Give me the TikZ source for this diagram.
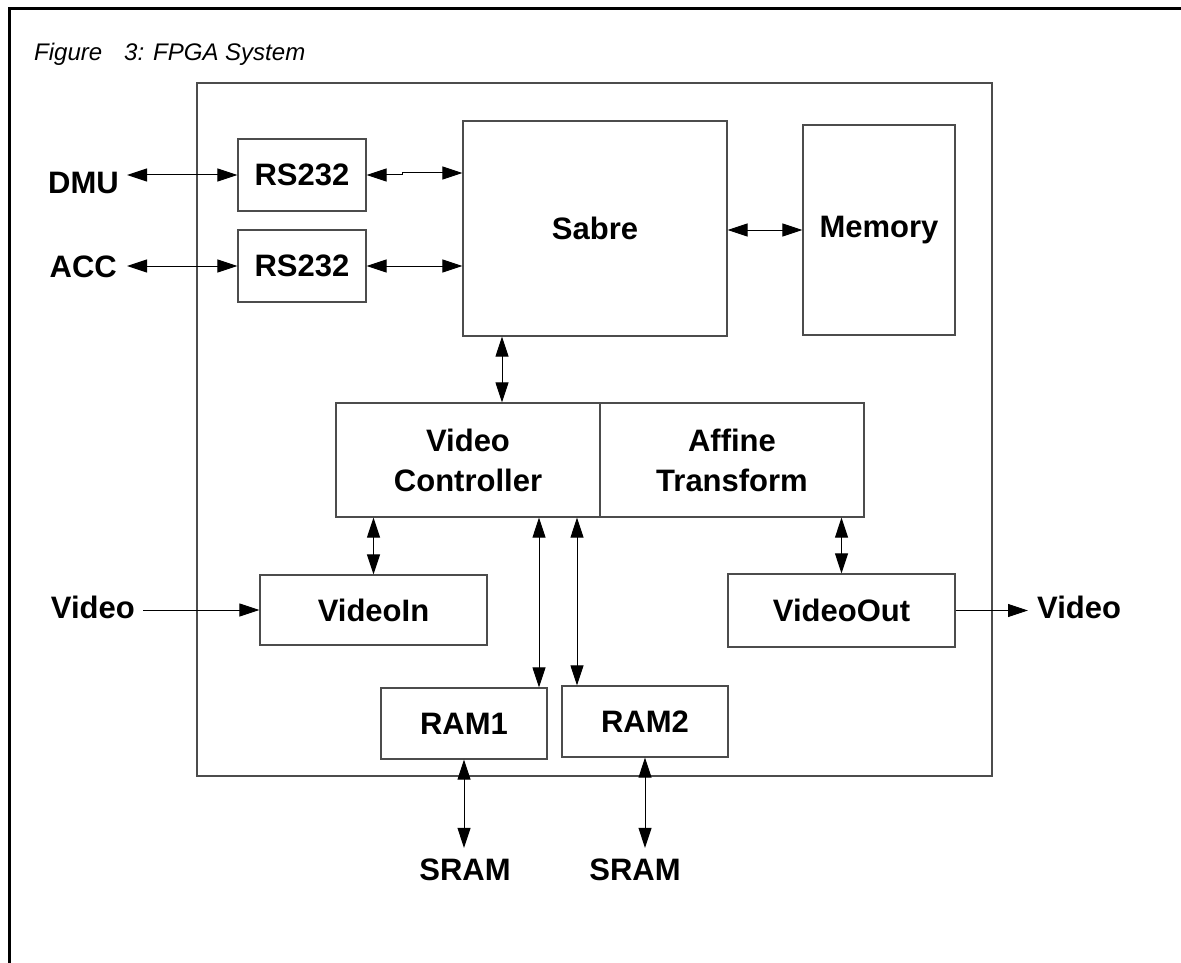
\documentclass[tikz,border=0pt]{standalone}
\usepackage{fontspec}
\setmainfont{Liberation Sans}
\usetikzlibrary{arrows.meta}
\begin{document}
\begin{tikzpicture}[x=1pt,y=-1pt,
  blk/.style={draw=black!70, line width=1.3pt, inner sep=0pt, font=\fontsize{31}{40}\selectfont\bfseries, align=center},
  lbl/.style={inner sep=0pt, font=\fontsize{31}{37}\selectfont\bfseries},
  conn/.style={draw=black, line width=1pt},
  dbl/.style={conn, {Triangle[length=20pt,width=13pt]}-{Triangle[length=20pt,width=13pt]}},
  one/.style={conn, -{Triangle[length=20pt,width=13pt]}},
]
\useasboundingbox (0,0) rectangle (1181,963);
% outer frame
\draw[line width=3pt] (9,963) -- (9,9) -- (1181,9);
\node[anchor=base west, inner sep=0pt, font=\fontsize{24}{29}\selectfont\itshape] (title) at (34,61) {Figure\hspace{22pt}3:\hspace{9pt}FPGA System};
% FPGA box
\draw[draw=black!70, line width=1.3pt] (197,83) rectangle (992,776);
% blocks
\node[blk, minimum width=128pt, minimum height=72pt] (rs1) at (302,175) {RS232};
\node[blk, minimum width=128pt, minimum height=72pt] (rs2) at (302,266) {RS232};
\node[blk, minimum width=264pt, minimum height=215pt] (sabre) at (595,228.5) {Sabre};
\node[blk, minimum width=152pt, minimum height=210pt] (mem) at (879,230) {Memory};
\node[blk, minimum width=264pt, minimum height=114pt] (vc) at (468,460) {Video\\Controller};
\node[blk, minimum width=264pt, minimum height=114pt] (at) at (732,460) {Affine\\Transform};
\node[blk, minimum width=227pt, minimum height=70pt] (vin) at (373.5,610) {VideoIn};
\node[blk, minimum width=227pt, minimum height=73pt] (vout) at (841.5,610.5) {VideoOut};
\node[blk, minimum width=166pt, minimum height=71pt] (ram1) at (464,723.5) {RAM1};
\node[blk, minimum width=166pt, minimum height=71pt] (ram2) at (645,721.5) {RAM2};
% external labels
\node[lbl, anchor=east] (dmu) at (119,183) {DMU};
\node[lbl, anchor=east] (acc) at (117,267) {ACC};
\node[lbl, anchor=east] (vinl) at (135,607) {Video};
\node[lbl, anchor=west] (voutl) at (1037,607) {Video};
\node[lbl] (sram1) at (465,870) {SRAM};
\node[lbl] (sram2) at (635,870) {SRAM};
% helper coordinates
\coordinate (xsv) at (502,0);
\coordinate (xr1) at (539,0);
\coordinate (xr2) at (577,0);
\coordinate (jog) at (402,173);
% connectors
\draw[dbl] (rs1.west -| dmu.east) ++(8,0) -- (rs1.west);
\draw[dbl] (rs2.west -| acc.east) ++(10,0) -- (rs2.west);
\draw[dbl] (rs1.east) -- (rs1.east -| jog) -- (jog) -- (jog -| sabre.west);
\draw[dbl] (rs2.east) -- (rs2.east -| sabre.west);
\draw[dbl] (sabre.east |- mem.west) -- (mem.west);
\draw[dbl] (sabre.south -| xsv) -- (vc.north -| xsv);
\draw[dbl] (vc.south -| vin.north) -- (vin.north);
\draw[dbl] (at.south -| vout.north) -- (vout.north);
\draw[dbl] (vc.south -| xr1) -- (ram1.north -| xr1);
\draw[dbl] (vc.south -| xr2) -- (ram2.north -| xr2);
\draw[dbl, shorten >=11pt] (ram1.south) -- (ram1.south |- sram1.north);
\draw[dbl, shorten >=11pt] (ram2.south) -- (ram2.south |- sram2.north);
\draw[one] (vin.west -| vinl.east) ++(8,0) -- (vin.west);
\draw[one, shorten >=9pt] (vout.east) -- (vout.east -| voutl.west);
\end{tikzpicture}
\end{document}
